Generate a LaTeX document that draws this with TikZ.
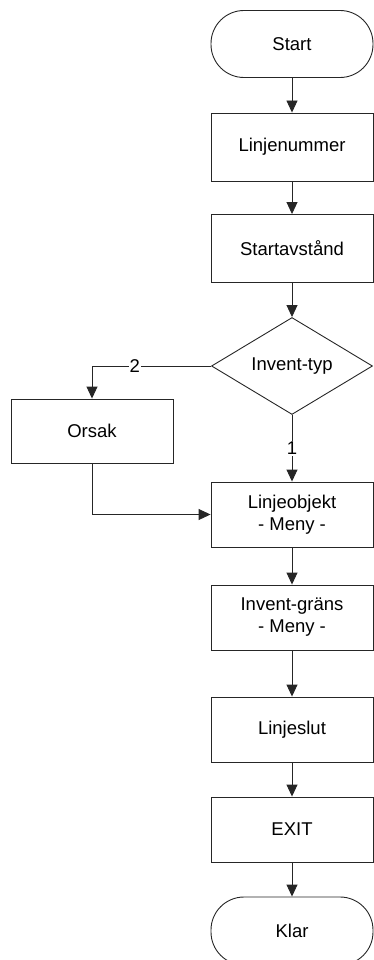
\documentclass[tikz,border=0pt]{standalone}
\usepackage{fontspec}
\setmainfont{Liberation Sans}
\usetikzlibrary{arrows.meta,shapes.geometric}
\begin{document}
\begin{tikzpicture}[x=1pt,y=-1pt,
  font=\fontsize{18.5}{22}\selectfont,
  every node/.style={line width=0.9pt, draw=black!85},
  box/.style={rectangle, minimum width=162pt, minimum height=66pt, inner sep=0pt, align=center},
  term/.style={rectangle, rounded corners=33pt, minimum width=162pt, minimum height=67pt, inner sep=0pt},
  dec/.style={diamond, aspect=1.66, minimum width=161pt, minimum height=97pt, inner sep=0pt},
  lbl/.style={draw=none, fill=white, inner sep=1pt},
  conn/.style={line width=0.9pt, draw=black!85, -{Triangle[length=12pt,width=11pt]}}]
\useasboundingbox (0,0) rectangle (373,960);
\node[term] (start) at (292,44) {Start};
\node[box, minimum height=68pt] (lin) at (292,147) {Linjenummer};
\node[box, minimum height=68pt] (stav) at (292,248.5) {Startavstånd};
\node[dec] (typ) at (292,366) {Invent-typ};
\node[box, minimum height=64pt] (orsak) at (92,431) {Orsak};
\node[box, minimum height=65pt] (lobj) at (292,514.5) {Linjeobjekt\\- Meny -};
\node[box, minimum height=65pt] (grans) at (292,617.5) {Invent-gräns\\- Meny -};
\node[box, minimum height=65pt] (slut) at (292,729.5) {Linjeslut};
\node[box, minimum height=65pt] (exit) at (292,829.5) {EXIT};
\node[term, minimum height=68pt] (klar) at (292,931) {Klar};
\draw[conn] (start) -- (lin);
\draw[conn] (lin) -- (stav);
\draw[conn] (stav) -- (typ);
\draw[conn] (typ.west) -| node[lbl, pos=0.32] {2} (orsak.north);
\draw[conn] (typ.south) -- node[lbl, pos=0.5] {1} (lobj.north);
\draw[conn] (orsak.south) |- (lobj.west);
\draw[conn] (lobj) -- (grans);
\draw[conn] (grans) -- (slut);
\draw[conn] (slut) -- (exit);
\draw[conn] (exit) -- (klar);
\end{tikzpicture}
\end{document}
